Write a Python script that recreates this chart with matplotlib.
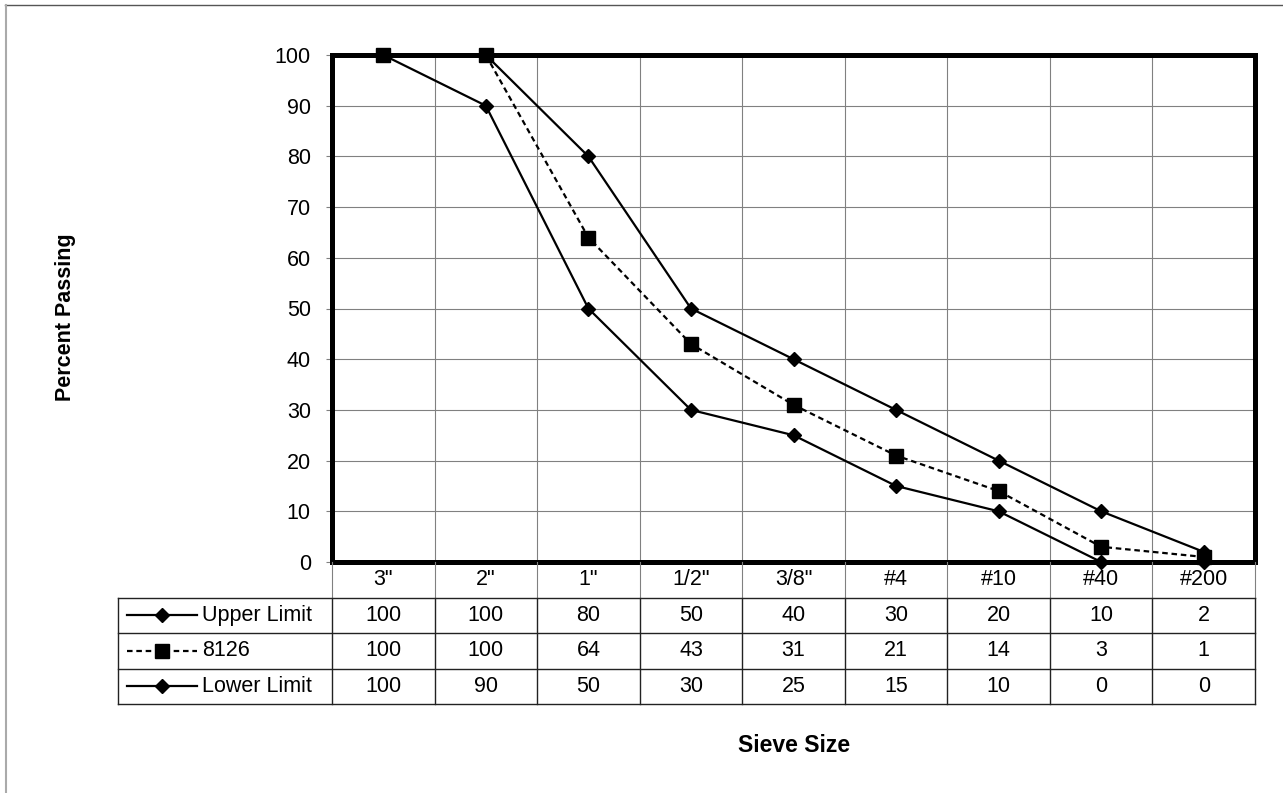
import matplotlib.pyplot as plt
from matplotlib.lines import Line2D

plt.rcParams['font.family'] = ['Liberation Sans', 'DejaVu Sans']

# --- data ---
sieves = ['3"', '2"', '1"', '1/2"', '3/8"', '#4', '#10', '#40', '#200']
upper = [100, 100, 80, 50, 40, 30, 20, 10, 2]
sample = [100, 100, 64, 43, 31, 21, 14, 3, 1]
lower = [100, 90, 50, 30, 25, 15, 10, 0, 0]
series_names = ['Upper Limit', '8126', 'Lower Limit']
yticks = list(range(0, 101, 10))

W, H = 1283, 793
fig = plt.figure(figsize=(W / 100, H / 100), dpi=100)

# pixel layout
x0, x1 = 332, 1255
y_top, y_bot = 55, 562
tab_left, tab_bot = 118, 704
cat_w = (x1 - x0) / len(sieves)
fs = 15.5

ax = fig.add_axes([x0 / W, 1 - y_bot / H, (x1 - x0) / W, (y_bot - y_top) / H])
x = list(range(len(sieves)))

styles = [
    dict(ls='-', marker='D', ms=6.8),
    dict(ls=(0, (2.5, 1.7)), marker='s', ms=10.5),
    dict(ls='-', marker='D', ms=6.8),
]
all_series = [upper, sample, lower]
zorders = [3, 5, 4]
for vals, st, z in zip(all_series, styles, zorders):
    ax.plot(x, vals, color='black', lw=1.6, clip_on=False, zorder=z, **st)

ax.set_xlim(-0.5, len(sieves) - 0.5)
ax.set_ylim(0, 100)
ax.set_yticks(yticks)
ax.set_xticks([i + 0.5 for i in range(len(sieves) - 1)])
ax.set_xticklabels([])
ax.tick_params(axis='x', length=0)
ax.tick_params(axis='y', length=4.3, width=0.8, pad=11, labelsize=fs, color='#808080')
ax.grid(True, color='#808080', lw=0.8)
for s in ax.spines.values():
    s.set_linewidth(3.6)
    s.set_color('black')
    s.set_zorder(6)

# --- data table ---
tab = fig.add_axes([tab_left / W, 1 - tab_bot / H, (x1 - tab_left) / W, (tab_bot - y_bot) / H])
left_d = -0.5 - (x0 - tab_left) / cat_w
tab.set_xlim(left_d, len(sieves) - 0.5)
tab.set_ylim(4, 0)
tab.axis('off')

for j, lab in enumerate(sieves):
    tab.text(j, 0.5, lab, ha='center', va='center', fontsize=fs)
for r, vals in enumerate(all_series):
    for j, v in enumerate(vals):
        tab.text(j, r + 1.5, str(v), ha='center', va='center', fontsize=fs)

line_c = '#222222'
for yy in [1, 2, 3, 4]:
    tab.plot([left_d, len(sieves) - 0.5], [yy, yy], color=line_c, lw=1, clip_on=False)
for xx in [k - 0.5 for k in range(len(sieves) + 1)]:
    tab.plot([xx, xx], [0, 1], color='#808080', lw=0.8, clip_on=False)
    tab.plot([xx, xx], [1, 4], color=line_c, lw=1, clip_on=False)
tab.plot([left_d, left_d], [1, 4], color=line_c, lw=1, clip_on=False)

# legend keys inside table
k0 = -0.5 - (x0 - 127) / cat_w
k1 = -0.5 - (x0 - 197) / cat_w
km = (k0 + k1) / 2
kt = -0.5 - (x0 - 202) / cat_w
for r, (name, st) in enumerate(zip(series_names, styles)):
    yy = r + 1.5
    tab.plot([k0, k1], [yy, yy], color='black', lw=1.6, ls=st['ls'], clip_on=False)
    tab.plot([km], [yy], color='black', marker=st['marker'], ms=st['ms'], clip_on=False)
    tab.text(kt, yy, name, ha='left', va='center', fontsize=fs)

# axis titles
fig.text(66 / W, 1 - 317 / H, 'Percent Passing', rotation=90, ha='center', va='center',
         fontsize=15.5, fontweight='bold')
fig.text(794 / W, 1 - 745 / H, 'Sieve Size', ha='center', va='center',
         fontsize=16.5, fontweight='bold')

# outer frame
fig.add_artist(Line2D([5 / W, 1], [1 - 5 / H, 1 - 5 / H], color='#555555', lw=1))
fig.add_artist(Line2D([5.5 / W, 5.5 / W], [0, 1 - 5 / H], color='#aaaaaa', lw=1.5))

fig.savefig('out.png', dpi=100)
